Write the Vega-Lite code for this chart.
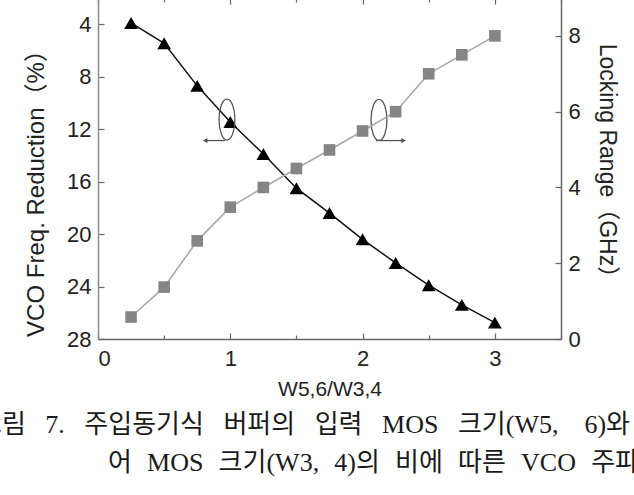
{
  "$schema": "https://vega.github.io/schema/vega-lite/v6.json",
  "width": 463,
  "height": 341,
  "autosize": "none",
  "padding": {"left": 98, "top": -2, "right": 73, "bottom": 156},
  "background": "white",
  "config": {
    "view": {"stroke": null},
    "axis": {
      "labelFont": "Liberation Sans",
      "labelFontSize": 22,
      "labelColor": "#222",
      "titleFont": "Liberation Sans, Noto Sans CJK KR",
      "titleFontSize": 23,
      "titleFontWeight": "normal",
      "titleColor": "#222",
      "domainColor": "#666",
      "domainWidth": 1.5,
      "tickColor": "#666",
      "tickWidth": 1.2,
      "grid": false
    }
  },
  "title": {
    "text": [
      "그림\u00a0\u00a0\u00a07.\u00a0\u00a0\u00a0주입동기식\u00a0\u00a0\u00a0버퍼의\u00a0\u00a0\u00a0입력\u00a0\u00a0\u00a0MOS\u00a0\u00a0\u00a0크기(W5,\u00a0\u00a0\u00a0\u00a06)와",
      "\u200b\u00a0\u00a0\u00a0\u00a0\u00a0\u00a0\u00a0\u00a0\u00a0\u00a0\u00a0\u00a0\u00a0\u00a0\u00a0\u00a0\u00a0\u00a0\u00a0\u00a0어\u00a0\u00a0\u200aMOS\u00a0\u00a0\u200a크기(W3,\u00a0\u00a0\u200a4)의\u00a0\u00a0\u200a비에\u00a0\u00a0\u200a따른\u00a0\u00a0\u200aVCO\u00a0\u00a0\u200a주파"
    ],
    "orient": "bottom",
    "anchor": "start",
    "frame": "group",
    "dx": -120,
    "offset": 13,
    "font": "Liberation Serif, Noto Sans CJK KR",
    "fontSize": 26,
    "fontWeight": "normal",
    "lineHeight": 38,
    "color": "#1a1a1a"
  },
  "datasets": {
    "sweep": [
      {"ratio": 0.25, "reduction": 3.9, "locking": 0.58},
      {"ratio": 0.5, "reduction": 5.45, "locking": 1.37},
      {"ratio": 0.75, "reduction": 8.7, "locking": 2.59},
      {"ratio": 1.0, "reduction": 11.45, "locking": 3.48},
      {"ratio": 1.25, "reduction": 13.9, "locking": 4.0},
      {"ratio": 1.5, "reduction": 16.5, "locking": 4.5},
      {"ratio": 1.75, "reduction": 18.4, "locking": 4.99},
      {"ratio": 2.0, "reduction": 20.4, "locking": 5.49},
      {"ratio": 2.25, "reduction": 22.2, "locking": 6.0},
      {"ratio": 2.5, "reduction": 23.9, "locking": 7.0},
      {"ratio": 2.75, "reduction": 25.4, "locking": 7.5},
      {"ratio": 3.0, "reduction": 26.75, "locking": 8.0}
    ],
    "markers": [
      {"cx": 0.975, "cy": 11.27, "from": 0.96, "to": 0.81, "ay": 12.87, "dir": "triangle-left"},
      {"cx": 2.124, "cy": 11.3, "from": 2.1, "to": 2.31, "ay": 12.87, "dir": "triangle-right"}
    ]
  },
  "layer": [
    {
      "data": {"name": "sweep"},
      "layer": [
        {
          "mark": {"type": "line", "color": "#111", "strokeWidth": 1.5},
          "encoding": {
            "x": {
              "field": "ratio", "type": "quantitative",
              "scale": {"domain": [0, 3.5], "nice": false},
              "axis": {
                "orient": "bottom",
                "title": "W5,6/W3,4",
                "values": [0, 0.5, 1, 1.5, 2, 2.5, 3, 3.5],
                "labelExpr": "datum.value % 1 === 0 ? format(datum.value, 'd') : ''",
                "tickSize": {"condition": {"test": "datum.value % 1 !== 0", "value": -4}, "value": -6},
                "labelPadding": 15,
                "titleY": 56,
                "titleBaseline": "alphabetic",
                "titleFontSize": 21
              }
            },
            "y": {
              "field": "reduction", "type": "quantitative",
              "scale": {"domain": [2, 28], "reverse": true, "nice": false, "zero": false},
              "axis": {
                "orient": "left",
                "title": "VCO Freq.  Reduction（%）",
                "values": [4, 8, 12, 16, 20, 24, 28],
                "tickSize": -6,
                "labelPadding": 13,
                "domainColor": "#8c8c8c",
                "titleFontSize": 24,
                "titleAngle": -90,
                "titleX": -62,
                "titleY": 189,
                "titleBaseline": "middle",
                "titleAlign": "center"
              }
            }
          }
        },
        {
          "mark": {"type": "point", "shape": "triangle-up", "filled": true, "size": 190, "color": "#000", "opacity": 1},
          "encoding": {
            "x": {"field": "ratio", "type": "quantitative"},
            "y": {"field": "reduction", "type": "quantitative"}
          }
        },
        {
          "data": {"name": "markers"},
          "mark": {
            "type": "point",
            "shape": "M0,-1C0.215,-1 0.39,-0.552 0.39,0C0.39,0.552 0.215,1 0,1C-0.215,1 -0.39,0.552 -0.39,0C-0.39,-0.552 -0.215,-1 0,-1Z",
            "filled": false, "size": 1681, "color": "#555", "strokeWidth": 1.3, "opacity": 1
          },
          "encoding": {
            "x": {"field": "cx", "type": "quantitative"},
            "y": {"field": "cy", "type": "quantitative"}
          }
        },
        {
          "data": {"name": "markers"},
          "mark": {"type": "rule", "color": "#555", "strokeWidth": 1.3},
          "encoding": {
            "x": {"field": "from", "type": "quantitative"},
            "x2": {"field": "to"},
            "y": {"field": "ay", "type": "quantitative"}
          }
        },
        {
          "data": {"name": "markers"},
          "mark": {"type": "point", "filled": true, "size": 28, "color": "#555", "opacity": 1},
          "encoding": {
            "x": {"field": "to", "type": "quantitative"},
            "y": {"field": "ay", "type": "quantitative"},
            "shape": {"field": "dir", "type": "nominal", "scale": null, "legend": null}
          }
        }
      ]
    },
    {
      "data": {"name": "sweep"},
      "layer": [
        {
          "mark": {"type": "line", "color": "#a8a8a8", "strokeWidth": 1.6},
          "encoding": {
            "x": {
              "field": "ratio", "type": "quantitative",
              "axis": {
                "orient": "top",
                "title": null,
                "labels": false,
                "values": [0, 0.5, 1, 1.5, 2, 2.5, 3, 3.5],
                "tickSize": {"condition": {"test": "datum.value % 1 !== 0", "value": -4}, "value": -6}
              }
            },
            "y": {
              "field": "locking", "type": "quantitative",
              "scale": {"domain": [0, 9], "nice": false},
              "axis": {
                "orient": "right",
                "title": "Locking Range（GHz）",
                "values": [0, 2, 4, 6, 8],
                "tickSize": -6,
                "labelPadding": 13,
                "titleAngle": 90,
                "titleX": 45,
                "titleY": 168,
                "titleBaseline": "middle",
                "titleAlign": "center"
              }
            }
          }
        },
        {
          "mark": {"type": "point", "shape": "square", "filled": true, "size": 135, "color": "#858585", "opacity": 1},
          "encoding": {
            "x": {"field": "ratio", "type": "quantitative"},
            "y": {"field": "locking", "type": "quantitative"}
          }
        }
      ]
    }
  ],
  "resolve": {"scale": {"y": "independent"}, "axis": {"x": "independent"}}
}
